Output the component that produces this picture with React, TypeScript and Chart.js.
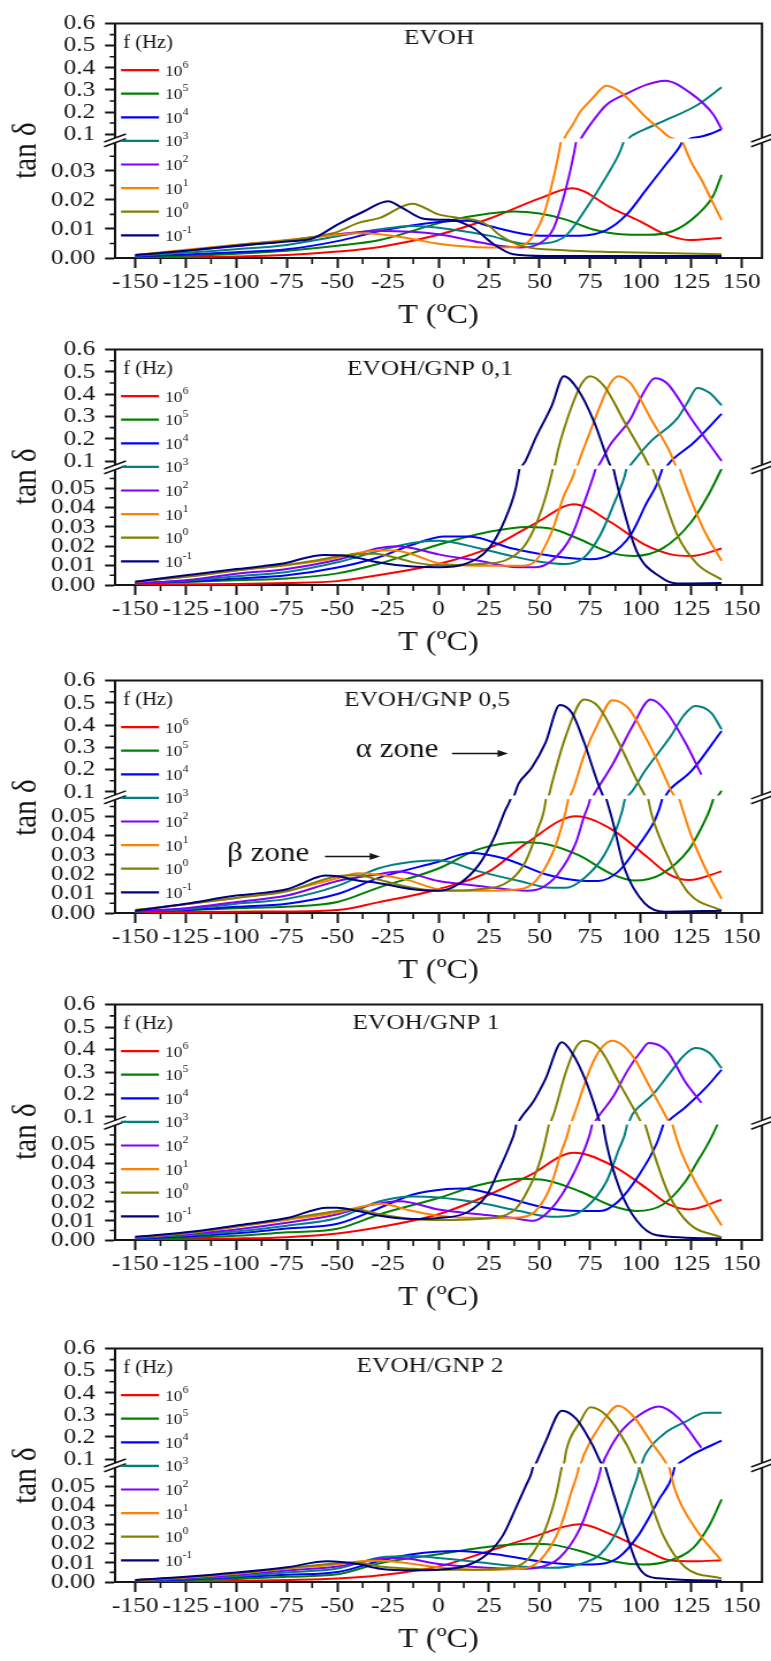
import React, { useEffect, useRef } from 'react';
import { Chart, registerables } from 'chart.js';

Chart.register(...registerables);

type Pt = [number, number];

// ---------------- axis ticks ----------------
const X_TICKS = [-150, -125, -100, -75, -50, -25, 0, 25, 50, 75, 100, 125, 150];
const X_MINOR = [-137.5, -112.5, -87.5, -62.5, -37.5, -12.5, 12.5, 37.5, 62.5, 87.5, 112.5, 137.5];
const HIGH_TICKS = [0.1, 0.2, 0.3, 0.4, 0.5, 0.6];
const HIGH_MINOR = [0.15, 0.25, 0.35, 0.45, 0.55];
const LOW_TICKS_EVOH = [0, 0.01, 0.02, 0.03];
const LOW_MINOR_EVOH = [0.005, 0.015, 0.025, 0.035];
const LOW_TICKS = [0, 0.01, 0.02, 0.03, 0.04, 0.05];
const LOW_MINOR = [0.005, 0.015, 0.025, 0.035, 0.045, 0.055];

// legend: frequency exponents (10^n Hz)
const FREQ_EXP = ['6', '5', '4', '3', '2', '1', '0', '-1'];
const COLORS = ['#ff0000', '#008000', '#0000ff', '#008080', '#8000ff', '#ff8000', '#808000', '#000080'];

// ---------------- EVOH ----------------
const evoh_6: Pt[] = [[-150,0.0002],[-125,0.0003],[-100,0.0005],[-75,0.001],[-50,0.0022],[-29,0.0038],[0,0.008],[25,0.0135],[50,0.0205],[66,0.024],[86,0.017],[100,0.0125],[111,0.0085],[124,0.0062],[140,0.0069]];
const evoh_5: Pt[] = [[-150,0.0004],[-125,0.0008],[-100,0.0015],[-75,0.0025],[-50,0.0042],[-29,0.0062],[4,0.0127],[25,0.0153],[37,0.016],[50,0.0153],[63,0.0132],[76,0.0099],[90,0.0082],[103,0.008],[116,0.0093],[128,0.0149],[136,0.0216],[140,0.0286]];
const evoh_4: Pt[] = [[-150,0.0006],[-125,0.0012],[-100,0.002],[-75,0.003],[-50,0.0058],[-29,0.0093],[0,0.0124],[15,0.0128],[25,0.011],[50,0.0077],[70,0.0077],[83,0.0096],[93,0.0149],[103,0.0238],[113,0.0327],[119,0.038],[122,0.042],[123.5,0.076],[128,0.086],[135,0.103],[140,0.122]];
const evoh_3: Pt[] = [[-150,0.0008],[-125,0.0018],[-100,0.003],[-75,0.0045],[-50,0.0075],[-29,0.0099],[-13,0.011],[0,0.0104],[25,0.0077],[43,0.0049],[53,0.0051],[63,0.0077],[73,0.017],[83,0.028],[90,0.037],[92.5,0.042],[94,0.078],[97,0.1],[104,0.13],[111,0.158],[128,0.232],[140,0.312]];
const evoh_2: Pt[] = [[-150,0.001],[-125,0.0025],[-100,0.004],[-75,0.006],[-50,0.0082],[-29,0.0093],[0,0.0082],[20,0.0054],[40,0.0036],[50,0.005],[57,0.0104],[63,0.0238],[67,0.036],[68.5,0.042],[70.5,0.08],[76,0.155],[83,0.232],[93,0.283],[103,0.324],[112,0.342],[124,0.29],[136,0.188],[140,0.122]];
const evoh_1: Pt[] = [[-150,0.001],[-125,0.0028],[-100,0.0045],[-75,0.0062],[-60,0.0072],[-50,0.008],[-40,0.0085],[-29,0.0082],[-15,0.0068],[0,0.0049],[25,0.0036],[37,0.0038],[45,0.006],[52,0.0149],[57,0.028],[60,0.038],[61,0.042],[62.5,0.085],[66.5,0.144],[70,0.2],[76,0.26],[83,0.319],[90,0.29],[103,0.173],[110,0.118],[114,0.088],[117,0.075],[119.5,0.042],[125,0.033],[130,0.027],[135,0.02],[140,0.013]];
const evoh_0: Pt[] = [[-150,0.001],[-125,0.0025],[-100,0.0045],[-75,0.006],[-60,0.0075],[-50,0.009],[-40,0.012],[-29,0.0138],[-13,0.0187],[0,0.015],[10,0.0138],[20,0.0127],[25,0.011],[30,0.008],[42,0.004],[62,0.0027],[86,0.0021],[140,0.0013]];
const evoh_m1: Pt[] = [[-150,0.001],[-125,0.0025],[-100,0.0042],[-75,0.0057],[-62,0.0068],[-50,0.0115],[-37,0.016],[-25,0.0195],[-19,0.0177],[-8,0.0136],[0,0.0132],[5,0.0132],[17,0.0104],[27,0.0049],[37,0.0013],[53,0.0007],[140,0.0007]];

// ---------------- EVOH/GNP 0,1 ----------------
const gnp01_6: Pt[] = [[-150,0.0003],[-125,0.0004],[-100,0.0005],[-75,0.001],[-50,0.002],[-30,0.005],[0,0.0108],[25,0.019],[49,0.0325],[67,0.0417],[85,0.0325],[102,0.0208],[115,0.0158],[125,0.015],[140,0.0188]];
const gnp01_5: Pt[] = [[-150,0.0008],[-125,0.0015],[-100,0.0025],[-75,0.0033],[-50,0.006],[-30,0.0108],[0,0.0208],[25,0.0275],[44,0.03],[56,0.029],[69,0.024],[85,0.0167],[97,0.015],[111,0.019],[125,0.0325],[134,0.0475],[140,0.06]];
const gnp01_4: Pt[] = [[-150,0.001],[-125,0.0018],[-100,0.0033],[-75,0.005],[-50,0.009],[-30,0.0142],[-13,0.0208],[3,0.025],[15,0.025],[36,0.019],[62,0.0142],[75,0.0133],[85,0.0158],[95,0.0258],[103,0.0425],[108,0.052],[111.5,0.0625],[112.8,0.076],[115,0.1],[126,0.181],[140,0.312]];
const gnp01_3: Pt[] = [[-150,0.0008],[-125,0.0022],[-100,0.0045],[-75,0.0067],[-50,0.0117],[-30,0.0175],[-13,0.0217],[0,0.0228],[20,0.019],[36,0.015],[52,0.0117],[62,0.0108],[72,0.0142],[80,0.0258],[87,0.0425],[92,0.056],[93.5,0.0625],[94.8,0.08],[96.5,0.1],[105,0.188],[118,0.29],[123,0.36],[128,0.428],[134,0.406],[140,0.35]];
const gnp01_2: Pt[] = [[-150,0.0008],[-125,0.0025],[-100,0.0058],[-75,0.0083],[-50,0.013],[-40,0.016],[-30,0.019],[-20,0.02],[-12,0.0188],[0,0.0158],[20,0.0125],[39,0.0092],[48,0.0092],[56,0.0125],[66,0.0258],[72,0.0425],[77,0.0575],[78.3,0.0625],[79.5,0.085],[80.5,0.1],[85,0.174],[95,0.29],[101,0.4],[107,0.472],[113,0.449],[125,0.29],[140,0.1]];
const gnp01_1: Pt[] = [[-150,0.0017],[-125,0.0042],[-100,0.0075],[-75,0.0102],[-60,0.0122],[-50,0.014],[-40,0.0165],[-30,0.0178],[-22,0.0178],[-12,0.0155],[0,0.0112],[20,0.01],[41,0.01],[48,0.0125],[56,0.0275],[62,0.046],[67,0.0575],[68.2,0.0625],[69,0.087],[75,0.232],[80,0.35],[85,0.449],[89,0.481],[95,0.449],[105,0.29],[115,0.13],[117,0.085],[118.5,0.0625],[123,0.049],[131,0.029],[140,0.0125]];
const gnp01_0: Pt[] = [[-150,0.0017],[-125,0.0042],[-100,0.0075],[-75,0.0105],[-60,0.0128],[-50,0.0147],[-40,0.016],[-32,0.0161],[-20,0.0138],[-13,0.0118],[0,0.0102],[20,0.0108],[36,0.0142],[44,0.0225],[51,0.039],[56,0.0575],[57,0.0625],[58,0.1],[59,0.145],[66,0.348],[71,0.45],[75,0.481],[82,0.435],[92,0.275],[102,0.116],[104,0.08],[105,0.0625],[110,0.049],[118,0.026],[128,0.0108],[140,0.0028]];
const gnp01_m1: Pt[] = [[-150,0.0017],[-125,0.005],[-100,0.0082],[-87,0.0097],[-75,0.0115],[-65,0.0142],[-57,0.0155],[-48,0.0153],[-40,0.014],[-30,0.0117],[-13,0.0095],[0,0.0092],[13,0.0108],[25,0.019],[33,0.034],[38,0.049],[40.5,0.0625],[41.5,0.08],[43,0.1],[48,0.203],[56,0.348],[62,0.481],[69,0.42],[77,0.275],[84,0.1],[85,0.08],[86,0.0625],[89,0.049],[98,0.0175],[110,0.004],[118,0.0008],[140,0.001]];

// ---------------- EVOH/GNP 0,5 ----------------
const gnp05_6: Pt[] = [[-150,0.0003],[-125,0.0005],[-100,0.0007],[-75,0.0008],[-50,0.0015],[-30,0.0055],[0,0.0123],[25,0.0215],[44,0.0365],[68,0.05],[86,0.043],[102,0.03],[114,0.02],[124,0.017],[140,0.0215]];
const gnp05_5: Pt[] = [[-150,0.0008],[-125,0.0015],[-100,0.0025],[-75,0.0032],[-50,0.0057],[-30,0.013],[0,0.023],[20,0.033],[41,0.0365],[53,0.0357],[69,0.03],[86,0.02],[97,0.0168],[110,0.02],[124,0.033],[130,0.044],[134,0.053],[137,0.0625],[138.5,0.085],[140,0.105]];
const gnp05_4: Pt[] = [[-150,0.0008],[-125,0.0015],[-100,0.0032],[-75,0.0048],[-50,0.0098],[-30,0.018],[0,0.0265],[16,0.031],[33,0.028],[53,0.02],[69,0.0168],[79,0.0165],[89,0.0215],[99,0.035],[103,0.041],[107,0.048],[110.4,0.058],[111.2,0.0625],[112.5,0.085],[114,0.106],[125,0.193],[140,0.374]];
const gnp05_3: Pt[] = [[-150,0.0008],[-125,0.002],[-100,0.0048],[-75,0.0073],[-50,0.014],[-30,0.023],[-13,0.0265],[0,0.0273],[20,0.0215],[40,0.0165],[56,0.013],[63,0.013],[72,0.018],[82,0.03],[89,0.0465],[92,0.058],[92.6,0.0625],[94,0.085],[96,0.106],[102,0.193],[115,0.352],[121,0.44],[127,0.486],[135,0.454],[140,0.381]];
const gnp05_2: Pt[] = [[-150,0.001],[-125,0.0025],[-100,0.0057],[-75,0.009],[-50,0.0165],[-30,0.02],[-20,0.0215],[0,0.0165],[20,0.014],[44,0.0115],[51,0.013],[59,0.02],[68,0.0365],[72,0.05],[75,0.059],[75.5,0.0625],[77,0.09],[79,0.12],[86,0.222],[96,0.396],[105,0.515],[112,0.468],[122,0.323],[130,0.178]];
const gnp05_1: Pt[] = [[-150,0.0015],[-125,0.0045],[-100,0.0078],[-75,0.0115],[-50,0.018],[-40,0.0205],[-30,0.0198],[-15,0.017],[0,0.0123],[20,0.0115],[40,0.0123],[48,0.0165],[56,0.03],[61,0.045],[64,0.058],[64.6,0.0625],[65.5,0.09],[66.5,0.11],[72,0.265],[79,0.41],[86,0.512],[94,0.475],[102,0.352],[110,0.207],[115,0.106],[116.8,0.08],[118,0.0625],[125,0.04],[132,0.023],[140,0.0073]];
const gnp05_0: Pt[] = [[-150,0.0015],[-125,0.0045],[-100,0.0078],[-75,0.0112],[-50,0.019],[-40,0.0195],[-30,0.0173],[-13,0.013],[0,0.0115],[20,0.0123],[35,0.0165],[43,0.0265],[49,0.043],[53,0.058],[53.4,0.0625],[54.8,0.09],[56,0.135],[63,0.352],[72,0.515],[79,0.483],[89,0.323],[99,0.135],[102,0.085],[103,0.0625],[105.4,0.051],[114,0.028],[124,0.01],[140,0.0012]];
const gnp05_m1: Pt[] = [[-150,0.0012],[-125,0.0048],[-100,0.009],[-87,0.0104],[-75,0.0123],[-68,0.015],[-62,0.0178],[-56,0.0194],[-50,0.019],[-40,0.0168],[-30,0.0155],[-13,0.0123],[0,0.0115],[10,0.015],[20,0.025],[28,0.04],[33,0.053],[35.5,0.0585],[36.5,0.0625],[37.5,0.085],[39.5,0.135],[46,0.207],[53,0.323],[60,0.49],[66,0.454],[72,0.323],[79,0.135],[81,0.09],[82,0.0625],[86,0.048],[92,0.023],[102,0.005],[112,0.0007],[140,0.0012]];

// ---------------- EVOH/GNP 1 ----------------
const gnp1_6: Pt[] = [[-150,0.0003],[-125,0.0005],[-100,0.0008],[-75,0.0015],[-50,0.0034],[-29,0.0068],[0,0.0135],[25,0.0237],[45,0.0338],[67,0.0457],[86,0.039],[103,0.027],[114,0.0186],[124,0.016],[140,0.0211]];
const gnp1_5: Pt[] = [[-150,0.0006],[-125,0.0012],[-100,0.0022],[-75,0.004],[-50,0.0059],[-29,0.0135],[0,0.022],[20,0.0288],[40,0.0321],[53,0.0313],[70,0.0254],[86,0.0178],[98,0.0152],[111,0.0186],[122,0.0305],[128,0.041],[132,0.048],[136,0.056],[139,0.063],[140,0.08]];
const gnp1_4: Pt[] = [[-150,0.0008],[-125,0.0018],[-100,0.0035],[-75,0.006],[-50,0.0085],[-29,0.0169],[-13,0.0237],[4,0.0267],[12,0.027],[28,0.0237],[53,0.0169],[70,0.0152],[80,0.0152],[89,0.0203],[99,0.0338],[108,0.0508],[112,0.063],[113.5,0.08],[122,0.142],[132,0.228],[140,0.31]];
const gnp1_3: Pt[] = [[-150,0.001],[-125,0.0025],[-100,0.0045],[-75,0.0075],[-50,0.0115],[-29,0.0203],[-13,0.0228],[0,0.0223],[20,0.0195],[40,0.0152],[56,0.0122],[65,0.0127],[73,0.017],[83,0.0305],[89,0.047],[93,0.059],[93.5,0.063],[94.8,0.09],[96,0.113],[106,0.2],[116,0.314],[121,0.37],[127,0.407],[134,0.385],[140,0.317]];
const gnp1_2: Pt[] = [[-150,0.0012],[-125,0.003],[-100,0.0055],[-75,0.009],[-50,0.0135],[-35,0.018],[-19,0.0203],[0,0.016],[20,0.0135],[37,0.0115],[47,0.0101],[53,0.0135],[61,0.0237],[70,0.042],[75,0.056],[76.5,0.063],[78,0.088],[86,0.185],[94,0.314],[100,0.39],[104,0.429],[113,0.393],[122,0.257],[130,0.163]];
const gnp1_1: Pt[] = [[-150,0.0015],[-125,0.0035],[-100,0.007],[-75,0.0105],[-50,0.0144],[-40,0.017],[-29,0.019],[-13,0.0152],[0,0.0127],[20,0.0115],[40,0.0118],[48,0.0152],[55,0.027],[61,0.047],[64.5,0.058],[65.3,0.063],[66.3,0.09],[67.5,0.12],[75,0.314],[80,0.4],[86,0.439],[96,0.372],[104,0.242],[111,0.127],[113.5,0.085],[115,0.063],[119,0.049],[127,0.0305],[140,0.0076]];
const gnp1_0: Pt[] = [[-150,0.0015],[-125,0.0035],[-100,0.007],[-75,0.011],[-50,0.0152],[-42,0.0162],[-29,0.0135],[-13,0.011],[0,0.0105],[20,0.011],[37,0.0152],[43,0.0237],[50,0.0406],[54,0.0575],[55,0.063],[56,0.09],[57,0.113],[63,0.3],[68,0.41],[72,0.439],[80,0.4],[89,0.257],[98,0.113],[100,0.08],[101.5,0.063],[106,0.047],[114,0.0237],[124,0.0085],[140,0.0014]];
const gnp1_m1: Pt[] = [[-150,0.0017],[-125,0.004],[-100,0.0076],[-75,0.0115],[-55,0.0169],[-50,0.0169],[-40,0.0152],[-29,0.0127],[-13,0.011],[0,0.0115],[14,0.0144],[24,0.0237],[30,0.037],[35,0.049],[38,0.058],[38.8,0.063],[40,0.085],[41,0.099],[47,0.17],[53,0.271],[61,0.432],[66,0.386],[73,0.257],[79,0.099],[79.6,0.08],[81,0.063],[83,0.0508],[89.5,0.027],[98,0.0102],[108,0.0025],[140,0.0008]];

// ---------------- EVOH/GNP 2 ----------------
const gnp2_6: Pt[] = [[-150,0.0002],[-125,0.0003],[-100,0.0005],[-75,0.001],[-50,0.0018],[-29,0.0035],[0,0.0081],[25,0.0162],[45,0.0229],[70,0.0301],[86,0.0246],[103,0.0162],[114,0.0114],[127,0.0108],[140,0.0114]];
const gnp2_5: Pt[] = [[-150,0.0005],[-125,0.001],[-100,0.0016],[-75,0.0027],[-50,0.004],[-29,0.0098],[0,0.0145],[20,0.0178],[45,0.02],[56,0.0195],[70,0.0162],[86,0.0108],[101,0.0091],[114,0.0111],[126,0.0178],[134,0.0296],[140,0.0431]];
const gnp2_4: Pt[] = [[-150,0.0007],[-125,0.0013],[-100,0.0025],[-75,0.0038],[-50,0.0052],[-29,0.0111],[-13,0.0145],[10,0.0162],[28,0.0145],[53,0.0103],[70,0.0091],[80,0.0094],[89,0.0128],[99,0.0246],[109,0.043],[116,0.0565],[117.2,0.0625],[118.8,0.08],[121,0.093],[126,0.122],[140,0.183]];
const gnp2_3: Pt[] = [[-150,0.0008],[-125,0.0017],[-100,0.003],[-75,0.005],[-50,0.007],[-29,0.0128],[-13,0.0136],[0,0.0125],[20,0.0103],[40,0.0081],[56,0.0074],[70,0.0094],[80,0.0145],[89,0.028],[96,0.048],[99,0.058],[99.6,0.0625],[100.8,0.085],[102,0.115],[111,0.21],[122,0.268],[132,0.309],[140,0.309]];
const gnp2_2: Pt[] = [[-150,0.0009],[-125,0.002],[-100,0.0038],[-75,0.006],[-50,0.0081],[-29,0.012],[-19,0.0125],[0,0.0094],[20,0.0077],[40,0.0069],[50,0.0077],[60,0.0128],[70,0.028],[76,0.0448],[80,0.058],[80.7,0.0625],[81.7,0.09],[82.5,0.107],[89,0.21],[99,0.297],[109,0.338],[119,0.283],[130,0.151]];
const gnp2_1: Pt[] = [[-150,0.001],[-125,0.0024],[-100,0.0043],[-75,0.007],[-50,0.0091],[-35,0.0111],[-29,0.0111],[0,0.0077],[20,0.0064],[40,0.0069],[50,0.0111],[60,0.028],[66,0.048],[69,0.058],[69.7,0.0625],[70.8,0.09],[72,0.122],[80,0.253],[89,0.341],[96,0.297],[106,0.166],[112,0.09],[113.5,0.0625],[117,0.048],[127,0.028],[140,0.0111]];
const gnp2_0: Pt[] = [[-150,0.001],[-125,0.0025],[-100,0.0045],[-75,0.0072],[-50,0.0098],[-40,0.0102],[-29,0.0081],[-13,0.0069],[0,0.0064],[20,0.0064],[37,0.0077],[45,0.0128],[53,0.028],[58,0.0448],[60.6,0.058],[61.5,0.0625],[62.3,0.09],[63.1,0.136],[70,0.268],[75,0.334],[83,0.297],[93,0.166],[97.5,0.08],[98.5,0.0625],[103,0.048],[111,0.0246],[122,0.0077],[140,0.0019]];
const gnp2_m1: Pt[] = [[-150,0.001],[-125,0.0027],[-100,0.0049],[-75,0.0077],[-55,0.0108],[-40,0.0094],[-29,0.0069],[-13,0.0061],[0,0.0064],[14,0.0086],[24,0.0145],[32,0.0246],[38,0.038],[43,0.0498],[46,0.057],[47.2,0.0625],[48.3,0.082],[53,0.18],[61,0.319],[68,0.283],[76,0.166],[80.5,0.08],[81.8,0.0625],[86,0.048],[93,0.0246],[99,0.0077],[109,0.0019],[140,0.0007]];

// ---------------- layout (not data) ----------------
const CSS_W = 771;
const W = 670; // logical canvas width, stretched horizontally to 771 px like the original figure
const S = CSS_W / W;
const LEFT = 115 / S; // y axes width -> plot left edge
const RIGHT_PAD = (CSS_W - 762) / S;
const PAD_TOP = 14;
const X_AXIS_H = 74;
const SERIF = '"Liberation Serif", "Times New Roman", serif';
const INK = '#151515';

interface PanelDef {
  title: string;
  titleX: number;
  titleDy: number;
  top: number;
  bottom: number;
  highMin: number;
  lowMax: number;
  wHigh: number;
  wLow: number;
  lowTicks: number[];
  lowMinor: number[];
  series: Pt[][];
  zones?: boolean;
}

const PANELS: PanelDef[] = [
  { title: 'EVOH', titleX: 439, titleDy: 15, top: 16, bottom: 258, highMin: 0.072, lowMax: 0.0405, wHigh: 120.5, wLow: 121.5, lowTicks: LOW_TICKS_EVOH, lowMinor: LOW_MINOR_EVOH,
    series: [evoh_6, evoh_5, evoh_4, evoh_3, evoh_2, evoh_1, evoh_0, evoh_m1] },
  { title: 'EVOH/GNP 0,1', titleX: 430, titleDy: 20, top: 342, bottom: 585, highMin: 0.072, lowMax: 0.06075, wHigh: 121.5, wLow: 121.5, lowTicks: LOW_TICKS, lowMinor: LOW_MINOR,
    series: [gnp01_6, gnp01_5, gnp01_4, gnp01_3, gnp01_2, gnp01_1, gnp01_0, gnp01_m1] },
  { title: 'EVOH/GNP 0,5', titleX: 427, titleDy: 20, top: 673, bottom: 913, highMin: 0.076, lowMax: 0.0598, wHigh: 120.5, wLow: 119.5, lowTicks: LOW_TICKS, lowMinor: LOW_MINOR,
    series: [gnp05_6, gnp05_5, gnp05_4, gnp05_3, gnp05_2, gnp05_1, gnp05_0, gnp05_m1], zones: true },
  { title: 'EVOH/GNP 1', titleX: 426, titleDy: 19, top: 997, bottom: 1240, highMin: 0.074, lowMax: 0.0614, wHigh: 122, wLow: 121, lowTicks: LOW_TICKS, lowMinor: LOW_MINOR,
    series: [gnp1_6, gnp1_5, gnp1_4, gnp1_3, gnp1_2, gnp1_1, gnp1_0, gnp1_m1] },
  { title: 'EVOH/GNP 2', titleX: 430, titleDy: 18, top: 1341, bottom: 1582, highMin: 0.0715, lowMax: 0.0609, wHigh: 120.5, wLow: 120.5, lowTicks: LOW_TICKS, lowMinor: LOW_MINOR,
    series: [gnp2_6, gnp2_5, gnp2_4, gnp2_3, gnp2_2, gnp2_1, gnp2_0, gnp2_m1] },
];

// keep, for one axis segment, the points inside its range plus their direct neighbours
function segmentData(pts: Pt[], lo: number, hi: number) {
  const inside = pts.map(([, v]) => v >= lo && v <= hi);
  return pts.map(([x, y], i) => ({ x, y: inside[i] || inside[i - 1] || inside[i + 1] ? y : null }));
}

// clip every dataset to its own (broken) y-axis segment
const clipPlugin = {
  id: 'clipToSegment',
  beforeDatasetDraw(chart: any, args: any) {
    const ys = chart.scales[args.meta.yAxisID];
    const ca = chart.chartArea;
    const ctx = chart.ctx;
    ctx.save();
    ctx.beginPath();
    ctx.rect(ca.left, ys.top, ca.right - ca.left, ys.bottom - ys.top);
    ctx.clip();
  },
  afterDatasetDraw(chart: any) {
    chart.ctx.restore();
  },
};

function arrow(ctx: CanvasRenderingContext2D, x0: number, x1: number, y: number) {
  ctx.beginPath();
  ctx.moveTo(x0, y);
  ctx.lineTo(x1 - 7, y);
  ctx.lineWidth = 1.5;
  ctx.stroke();
  ctx.beginPath();
  ctx.moveTo(x1, y);
  ctx.lineTo(x1 - 9, y - 3.5);
  ctx.lineTo(x1 - 9, y + 3.5);
  ctx.closePath();
  ctx.fill();
}

function makeDecor(p: PanelDef) {
  return {
    id: 'panelDecor',
    afterDraw(chart: any) {
      const ctx: CanvasRenderingContext2D = chart.ctx;
      const ca = chart.chartArea;
      const xs = chart.scales.x;
      const yh = chart.scales.yHigh;
      const yl = chart.scales.yLow;
      ctx.save();
      ctx.strokeStyle = INK;
      ctx.fillStyle = INK;
      // top and right frame
      ctx.lineWidth = 2;
      ctx.beginPath();
      ctx.moveTo(ca.left - 1, ca.top);
      ctx.lineTo(ca.right, ca.top);
      ctx.lineTo(ca.right, ca.bottom + 1);
      ctx.stroke();
      // minor ticks
      ctx.lineWidth = 1.6;
      ctx.beginPath();
      X_MINOR.forEach((v) => {
        const px = xs.getPixelForValue(v);
        ctx.moveTo(px, ca.bottom);
        ctx.lineTo(px, ca.bottom + 6);
      });
      HIGH_MINOR.forEach((v) => {
        const py = yh.getPixelForValue(v);
        ctx.moveTo(ca.left, py);
        ctx.lineTo(ca.left - 4.6, py);
      });
      p.lowMinor.forEach((v) => {
        const py = yl.getPixelForValue(v);
        ctx.moveTo(ca.left, py);
        ctx.lineTo(ca.left - 4.6, py);
      });
      ctx.stroke();
      // axis break
      const J = yh.bottom;
      ctx.fillStyle = '#ffffff';
      ctx.fillRect(ca.left + 1.5, J - 1.8, ca.right - ca.left - 3, 3.6);
      [ca.left, ca.right].forEach((X: number) => {
        const dx = 9.5, dy = 4, g = 2.4;
        ctx.fillStyle = '#ffffff';
        ctx.beginPath();
        ctx.moveTo(X - dx, J + dy - g);
        ctx.lineTo(X + dx, J - dy - g);
        ctx.lineTo(X + dx, J - dy + g);
        ctx.lineTo(X - dx, J + dy + g);
        ctx.closePath();
        ctx.fill();
        ctx.strokeStyle = INK;
        ctx.lineWidth = 1.6;
        ctx.beginPath();
        ctx.moveTo(X - dx, J + dy - g);
        ctx.lineTo(X + dx, J - dy - g);
        ctx.moveTo(X - dx, J + dy + g);
        ctx.lineTo(X + dx, J - dy + g);
        ctx.stroke();
      });
      // legend
      ctx.fillStyle = INK;
      ctx.textAlign = 'left';
      ctx.textBaseline = 'middle';
      ctx.font = `18px ${SERIF}`;
      ctx.fillText('f (Hz)', 123 / S, ca.top + 20);
      for (let i = 0; i < FREQ_EXP.length; i++) {
        const y = ca.top + 46.5 + i * 23.6;
        ctx.strokeStyle = COLORS[i];
        ctx.lineWidth = 2.2;
        ctx.beginPath();
        ctx.moveTo(121 / S, y);
        ctx.lineTo(159 / S, y);
        ctx.stroke();
        ctx.fillStyle = INK;
        ctx.font = `15px ${SERIF}`;
        ctx.fillText('10', 165 / S, y + 1.5);
        const w = ctx.measureText('10').width;
        ctx.font = `10px ${SERIF}`;
        ctx.fillText(FREQ_EXP[i], 165 / S + w + 0.3, y - 5);
      }
      // panel title
      ctx.font = `22px ${SERIF}`;
      ctx.textAlign = 'center';
      ctx.fillText(p.title, p.titleX / S, ca.top + p.titleDy);
      // y title
      ctx.save();
      ctx.translate(27 / S, ca.top + 127);
      ctx.rotate(-Math.PI / 2);
      ctx.font = `29px ${SERIF}`;
      ctx.textAlign = 'center';
      ctx.fillText('tan δ', 0, 0);
      ctx.restore();
      // zone annotations
      if (p.zones) {
        ctx.font = `27px ${SERIF}`;
        ctx.textAlign = 'center';
        ctx.fillStyle = INK;
        ctx.strokeStyle = INK;
        ctx.fillText('α zone', 397 / S, ca.top + 69);
        arrow(ctx, 452 / S, 508 / S, ca.top + 73);
        ctx.fillText('β zone', 268 / S, ca.top + 173);
        arrow(ctx, 325 / S, 380 / S, ca.top + 176);
      }
      ctx.restore();
    },
  };
}

function yAxis(ticks: number[], digits: number, min: number, max: number, weight: number) {
  return {
    type: 'linear',
    position: 'left',
    stack: 'tan',
    stackWeight: weight,
    min,
    max,
    afterBuildTicks: (s: any) => {
      s.ticks = ticks.map((v) => ({ value: v }));
    },
    afterFit: (s: any) => {
      s.width = LEFT;
    },
    grid: { drawOnChartArea: false, drawTicks: true, tickLength: 8.7, tickWidth: 2, tickColor: INK },
    border: { display: true, color: INK, width: 2 },
    ticks: {
      autoSkip: false,
      padding: 8.4,
      color: INK,
      font: { family: SERIF, size: 22 },
      callback: (v: any) => Number(v).toFixed(digits),
    },
  };
}

function buildConfig(p: PanelDef): any {
  const datasets: any[] = [];
  const ranges: Record<string, [number, number]> = { yHigh: [p.highMin, 0.6], yLow: [0, p.lowMax] };
  for (let i = p.series.length - 1; i >= 0; i--) {
    for (const axis of ['yHigh', 'yLow']) {
      const [lo, hi] = ranges[axis];
      datasets.push({
        label: `10^${FREQ_EXP[i]} Hz`,
        data: segmentData(p.series[i], lo, hi),
        yAxisID: axis,
        borderColor: COLORS[i],
        backgroundColor: COLORS[i],
        borderWidth: 2,
        pointRadius: 0,
        fill: false,
        spanGaps: false,
        cubicInterpolationMode: 'monotone',
        clip: 0,
      });
    }
  }
  return {
    type: 'line',
    data: { datasets },
    options: {
      animation: false,
      responsive: false,
      devicePixelRatio: 1,
      events: [],
      layout: { padding: { top: PAD_TOP, right: RIGHT_PAD, left: 0, bottom: 0 } },
      plugins: { legend: { display: false }, tooltip: { enabled: false }, title: { display: false } },
      scales: {
        x: {
          type: 'linear',
          min: -160,
          max: 160,
          position: 'bottom',
          afterBuildTicks: (s: any) => {
            s.ticks = X_TICKS.map((v) => ({ value: v }));
          },
          afterFit: (s: any) => {
            s.height = X_AXIS_H;
          },
          grid: { drawOnChartArea: false, drawTicks: true, tickLength: 10, tickWidth: 2, tickColor: INK },
          border: { display: true, color: INK, width: 2 },
          ticks: {
            autoSkip: false,
            maxRotation: 0,
            minRotation: 0,
            padding: 1,
            color: INK,
            font: { family: SERIF, size: 22 },
            callback: (v: any) => String(v),
          },
          title: { display: true, text: 'T (ºC)', color: INK, font: { family: SERIF, size: 28 }, padding: { top: 0, bottom: 0 } },
        },
        yLow: yAxis(p.lowTicks, 2, 0, p.lowMax, p.wLow),
        yHigh: yAxis(HIGH_TICKS, 1, p.highMin, 0.6, p.wHigh),
      },
    },
    plugins: [clipPlugin, makeDecor(p)],
  };
}

function Panel({ p }: { p: PanelDef }) {
  const ref = useRef<HTMLCanvasElement | null>(null);
  const H = p.bottom - p.top + PAD_TOP + X_AXIS_H;
  useEffect(() => {
    if (!ref.current) return;
    const chart = new Chart(ref.current, buildConfig(p));
    return () => chart.destroy();
  }, [p]);
  return (
    <canvas
      ref={ref}
      width={W}
      height={H}
      style={{ position: 'absolute', left: 0, top: p.top - PAD_TOP, width: `${CSS_W}px`, height: `${H}px` }}
    />
  );
}

export default function App() {
  return (
    <div style={{ position: 'absolute', left: 0, top: 0, width: CSS_W, height: 1661, background: '#ffffff', overflow: 'hidden' }}>
      {PANELS.map((p) => (
        <Panel key={p.title} p={p} />
      ))}
    </div>
  );
}
